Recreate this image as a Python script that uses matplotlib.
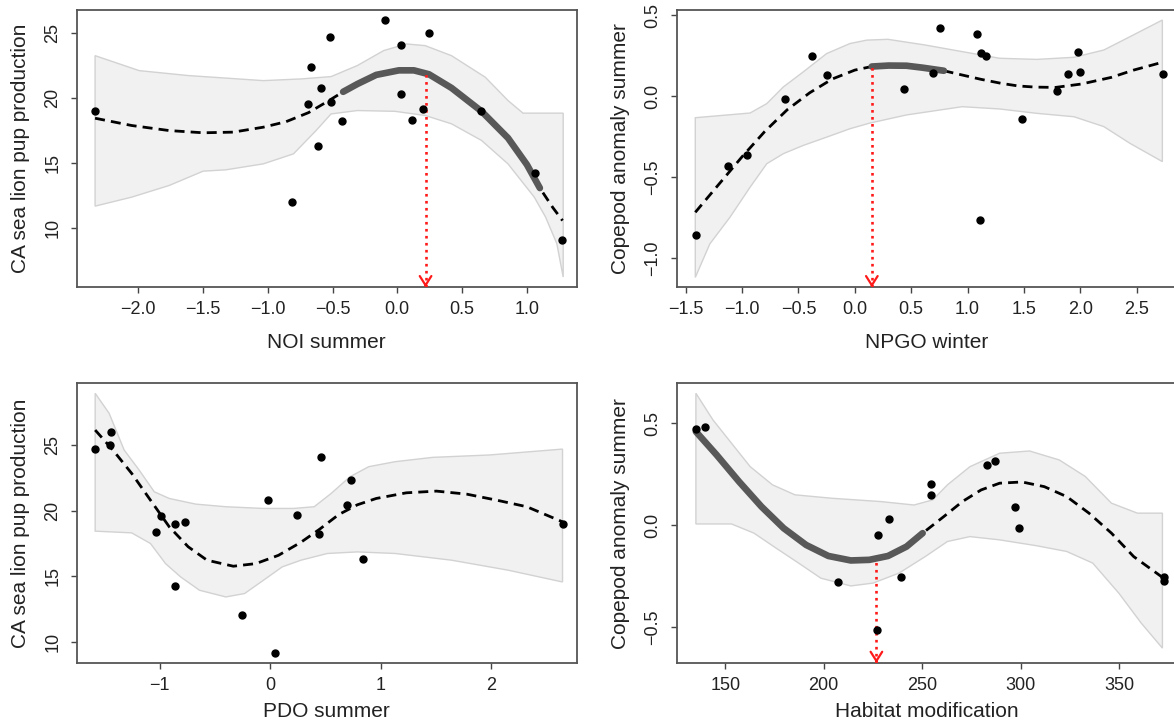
import matplotlib
matplotlib.use("Agg")
import matplotlib.pyplot as plt
import numpy as np

plt.rcParams['font.family'] = ['Liberation Sans', 'DejaVu Sans']

# ---------------- Panel 1: NOI summer vs CA sea lion pup production ----------------
noi_x = [-2.334, -0.816, -0.691, -0.668, -0.613, -0.586, -0.517, -0.514, -0.43, -0.096,
         0.029, 0.029, 0.116, 0.197, 0.244, 0.647, 1.063, 1.272]
noi_pups = [19.0, 12.0, 19.58, 22.37, 16.3, 20.8, 24.72, 19.7, 18.22, 26.0,
            24.1, 20.37, 18.37, 19.16, 25.0, 19.0, 14.25, 9.13]
noi_fit_x = [-2.332, -2.05, -1.76, -1.498, -1.266, -1.034, -0.859, -0.685, -0.54, -0.418,
             -0.308, -0.163, 0.012, 0.128, 0.244, 0.418, 0.65, 0.854, 1.0, 1.10, 1.20, 1.275]
noi_fit_y = [18.47, 17.91, 17.52, 17.35, 17.40, 17.78, 18.2, 18.9, 19.75, 20.5,
             21.1, 21.8, 22.15, 22.15, 21.85, 20.8, 19.0, 16.95, 14.9, 13.1, 11.6, 10.6]
noi_up_x = [-2.332, -1.992, -1.614, -1.034, -0.743, -0.511, -0.308, -0.105, 0.07, 0.215,
            0.418, 0.679, 0.854, 0.97, 1.28]
noi_up_y = [23.28, 22.13, 21.75, 21.36, 21.49, 21.67, 22.52, 23.67, 24.18, 24.05,
            23.28, 21.62, 19.83, 18.86, 18.86]
noi_lo_x = [-2.332, -2.05, -1.76, -1.498, -1.324, -1.034, -0.801, -0.627, -0.511, -0.308,
            -0.018, 0.215, 0.418, 0.65, 0.854, 1.057, 1.144, 1.231, 1.28]
noi_lo_y = [11.71, 12.40, 13.30, 14.40, 14.50, 14.96, 15.73, 17.52, 18.80, 19.06,
            19.0, 18.68, 18.04, 16.76, 14.96, 12.40, 10.87, 8.82, 6.26]
noi_sig = (-0.42, 1.10)
noi_thr = (0.218, 21.9)

# ---------------- Panel 2: NPGO winter vs copepod anomaly ----------------
npgo_x = [-1.411, -1.128, -0.956, -0.619, -0.378, -0.249, 0.435, 0.690, 0.752, 1.086,
          1.106, 1.122, 1.165, 1.482, 1.790, 1.895, 1.981, 1.994, 2.737]
npgo_cop = [-0.858, -0.430, -0.364, -0.020, 0.249, 0.128, 0.043, 0.140, 0.422, 0.381,
            -0.767, 0.263, 0.245, -0.144, 0.033, 0.136, 0.274, 0.150, 0.136]
npgo_fit_x = [-1.415, -1.2, -1.0, -0.8, -0.6, -0.4, -0.2, 0.0, 0.15, 0.3, 0.458, 0.6,
              0.79, 0.95, 1.119, 1.3, 1.449, 1.6, 1.779, 2.01, 2.275, 2.473, 2.737]
npgo_fit_y = [-0.718, -0.54, -0.375, -0.22, -0.085, 0.02, 0.105, 0.16, 0.182, 0.188, 0.187,
              0.175, 0.156, 0.13, 0.103, 0.078, 0.062, 0.055, 0.053, 0.074, 0.115, 0.16, 0.21]
npgo_up_x = [-1.415, -0.929, -0.781, -0.634, -0.457, -0.25, -0.043, 0.106, 0.293, 0.623,
             0.953, 1.284, 1.614, 1.944, 2.209, 2.44, 2.728]
npgo_up_y = [-0.134, -0.105, -0.047, 0.056, 0.149, 0.262, 0.324, 0.345, 0.35, 0.315,
             0.274, 0.233, 0.226, 0.239, 0.284, 0.366, 0.469]
npgo_lo_x = [-1.415, -1.286, -1.108, -0.929, -0.781, -0.634, -0.457, -0.25, -0.043, 0.134,
             0.458, 0.953, 1.284, 1.614, 1.944, 2.209, 2.44, 2.728]
npgo_lo_y = [-1.12, -0.913, -0.749, -0.563, -0.418, -0.356, -0.305, -0.254, -0.202, -0.167,
             -0.117, -0.066, -0.08, -0.107, -0.128, -0.189, -0.292, -0.405]
npgo_sig = (0.13, 0.79)
npgo_thr = (0.151, 0.182)

# ---------------- Panel 3: PDO summer vs CA sea lion pup production ----------------
pdo_x = [-1.582, -1.452, -1.442, -1.034, -0.983, -0.860, -0.857, -0.772, -0.258, -0.020,
         0.045, 0.245, 0.443, 0.456, 0.694, 0.732, 0.841, 2.643]
pdo_pups = [24.7, 25.0, 25.97, 18.34, 19.56, 19.0, 14.25, 19.15, 12.04, 20.83,
            9.16, 19.69, 18.19, 24.11, 20.4, 22.33, 16.3, 18.97]
pdo_fit_x = [-1.582, -1.422, -1.252, -1.082, -0.912, -0.741, -0.571, -0.333, -0.129, 0.075,
             0.279, 0.449, 0.619, 0.789, 0.959, 1.231, 1.503, 1.776, 2.048, 2.32, 2.643]
pdo_fit_y = [26.14, 24.62, 22.84, 20.8, 18.77, 17.25, 16.23, 15.77, 15.97, 16.6,
             17.6, 18.6, 19.7, 20.45, 20.93, 21.36, 21.49, 21.26, 20.8, 20.3, 19.15]
pdo_up_x = [-1.582, -1.456, -1.32, -1.184, -1.048, -0.912, -0.673, -0.401, -0.061, 0.211,
            0.398, 0.551, 0.721, 0.891, 1.129, 1.469, 1.98, 2.643]
pdo_up_y = [28.94, 27.42, 24.62, 23.09, 21.44, 20.93, 20.5, 20.3, 20.17, 20.17,
            20.3, 21.31, 22.58, 23.35, 23.73, 24.06, 24.24, 24.69]
pdo_lo_x = [-1.582, -1.252, -1.082, -0.946, -0.81, -0.639, -0.401, -0.231, -0.061, 0.109,
            0.279, 0.517, 0.789, 1.129, 1.639, 2.15, 2.643]
pdo_lo_y = [18.44, 18.31, 17.5, 15.97, 14.96, 13.94, 13.43, 13.69, 14.7, 15.72,
            16.23, 16.74, 16.86, 16.74, 16.23, 15.47, 14.57]

# ---------------- Panel 4: Habitat modification vs copepod anomaly ----------------
hab_x = [135.1, 139.6, 207.1, 227.6, 227.0, 233.0, 239.1, 254.4, 254.4, 282.8,
         287.2, 297.4, 299.4, 372.7, 372.7]
hab_cop = [0.475, 0.481, -0.280, -0.047, -0.512, 0.030, -0.252, 0.202, 0.148, 0.298,
           0.318, 0.089, -0.011, -0.254, -0.275]
hab_fit_x = [135.1, 145.6, 157.0, 168.4, 179.7, 191.1, 202.4, 213.8, 223.2, 232.7, 242.1,
             250.3, 261.0, 270.5, 280.0, 289.4, 300.8, 312.1, 323.5, 334.8, 346.2, 357.5, 372.7]
hab_fit_y = [0.46, 0.346, 0.215, 0.092, -0.014, -0.096, -0.15, -0.172, -0.169, -0.15, -0.104,
             -0.038, 0.043, 0.117, 0.174, 0.207, 0.213, 0.19, 0.141, 0.06, -0.038, -0.153, -0.259]
hab_up_x = [135.1, 143.8, 153.2, 162.7, 174.0, 185.4, 204.3, 228.9, 245.9, 255.4, 262.9,
            274.3, 289.4, 304.6, 319.7, 332.9, 346.2, 359.4, 372.1]
hab_up_y = [0.648, 0.517, 0.403, 0.288, 0.199, 0.15, 0.133, 0.117, 0.1, 0.125, 0.199,
            0.288, 0.354, 0.365, 0.321, 0.24, 0.109, 0.06, 0.06]
hab_lo_x = [135.1, 153.2, 164.6, 175.9, 187.3, 198.6, 213.8, 225.1, 238.3, 251.6, 262.9,
            274.3, 289.4, 308.3, 323.5, 336.7, 350.0, 361.3, 372.1]
hab_lo_y = [0.007, 0.007, -0.038, -0.112, -0.185, -0.259, -0.297, -0.283, -0.234, -0.153,
            -0.079, -0.055, -0.071, -0.1, -0.128, -0.185, -0.333, -0.479, -0.602]
hab_sig = (135.1, 250.3)
hab_thr = (226.8, -0.165)

# ---------------- figure ----------------
W, H = 1174, 723
fig = plt.figure(figsize=(W / 100, H / 100), dpi=100)

TXT = '#222222'
SPINE = '#555555'


def make_axes(left_px, top_px, bottom_px, width_px=500):
    return fig.add_axes([left_px / W, 1 - bottom_px / H, width_px / W, (bottom_px - top_px) / H])


def draw(ax, px, py, fx, fy, ux, uy, lx, ly, xlim, ylim, xticks, yticks, xfmt, yfmt,
         xlabel, ylabel, sig=None, thr=None, xlab_y=-0.2):
    ax.fill(np.concatenate([ux, lx[::-1]]), np.concatenate([uy, ly[::-1]]),
            facecolor='#f1f1f1', edgecolor='#d2d2d2', lw=1.0, zorder=1)
    ax.plot(fx, fy, color='black', lw=2.0, ls=(0, (3.6, 2.2)), zorder=2)
    if sig is not None:
        fxa = np.asarray(fx)
        fya = np.asarray(fy)
        m = (fxa >= sig[0] - 1e-9) & (fxa <= sig[1] + 1e-9)
        ax.plot(fxa[m], fya[m], color='#585858', lw=4.8, solid_capstyle='round', zorder=3)
    if thr is not None:
        ax.vlines(thr[0], ylim[0], thr[1], colors='#ff1a1a', linestyles=':', lw=1.9, zorder=4)
        ax.annotate('', xy=(thr[0], ylim[0]), xytext=(0, 2), textcoords='offset points',
                    arrowprops=dict(arrowstyle='->,head_length=0.6,head_width=0.38',
                                    color='#ff1a1a', lw=1.6, shrinkA=0, shrinkB=0,
                                    mutation_scale=11), zorder=5, annotation_clip=False)
    ax.plot(px, py, 'o', color='black', ms=5, zorder=6)
    ax.set_xlim(xlim)
    ax.set_ylim(ylim)
    ax.set_xticks(xticks)
    ax.set_yticks(yticks)
    ax.set_xticklabels([xfmt.format(v).replace('-', '\u2212') for v in xticks])
    ax.set_yticklabels([yfmt.format(v).replace('-', '\u2212') for v in yticks],
                       rotation=90, va='center')
    for s in ax.spines.values():
        s.set_color(SPINE)
        s.set_linewidth(1.3)
    ax.tick_params(axis='both', direction='out', length=4.5, width=1.0, color='#444444',
                   labelsize=13, labelcolor=TXT)
    ax.tick_params(axis='x', pad=5.5)
    ax.tick_params(axis='y', pad=6.5)
    ax.set_xlabel(xlabel, fontsize=15, color=TXT, va='center')
    ax.set_ylabel(ylabel, fontsize=15, color=TXT, va='center')
    ax.xaxis.set_label_coords(0.5, xlab_y)
    ax.yaxis.set_label_coords(-0.112, 0.5)


ax1 = make_axes(76.8, 10, 287.3)
draw(ax1, noi_x, noi_pups, noi_fit_x, noi_fit_y, noi_up_x, noi_up_y, noi_lo_x, noi_lo_y,
     (-2.473, 1.385), (5.47, 26.79), [-2.0, -1.5, -1.0, -0.5, 0.0, 0.5, 1.0], [10, 15, 20, 25],
     '{:.1f}', '{:d}', 'NOI summer', 'CA sea lion pup production', sig=noi_sig, thr=noi_thr,
     xlab_y=(287.3 - 343) / 277.3)

ax2 = make_axes(676.8, 10, 287.3)
draw(ax2, npgo_x, npgo_cop, npgo_fit_x, npgo_fit_y, npgo_up_x, npgo_up_y, npgo_lo_x, npgo_lo_y,
     (-1.579, 2.856), (-1.181, 0.531), [-1.5, -1.0, -0.5, 0.0, 0.5, 1.0, 1.5, 2.0, 2.5],
     [-1.0, -0.5, 0.0, 0.5], '{:.1f}', '{:.1f}', 'NPGO winter', 'Copepod anomaly summer',
     sig=npgo_sig, thr=npgo_thr, xlab_y=(287.3 - 343) / 277.3)

ax3 = make_axes(76.8, 383.3, 663.0)
draw(ax3, pdo_x, pdo_pups, pdo_fit_x, pdo_fit_y, pdo_up_x, pdo_up_y, pdo_lo_x, pdo_lo_y,
     (-1.748, 2.772), (8.40, 29.7), [-1, 0, 1, 2], [10, 15, 20, 25], '{:d}', '{:d}',
     'PDO summer', 'CA sea lion pup production', xlab_y=(663.0 - 711.7) / 279.7)

ax4 = make_axes(676.8, 383.3, 663.0)
draw(ax4, hab_x, hab_cop, hab_fit_x, hab_fit_y, hab_up_x, hab_up_y, hab_lo_x, hab_lo_y,
     (125.4, 379.4), (-0.675, 0.697), [150, 200, 250, 300, 350], [-0.5, 0.0, 0.5],
     '{:d}', '{:.1f}', 'Habitat modification', 'Copepod anomaly summer', sig=hab_sig,
     thr=hab_thr, xlab_y=(663.0 - 711.7) / 279.7)

fig.savefig('out.png', dpi=100)
